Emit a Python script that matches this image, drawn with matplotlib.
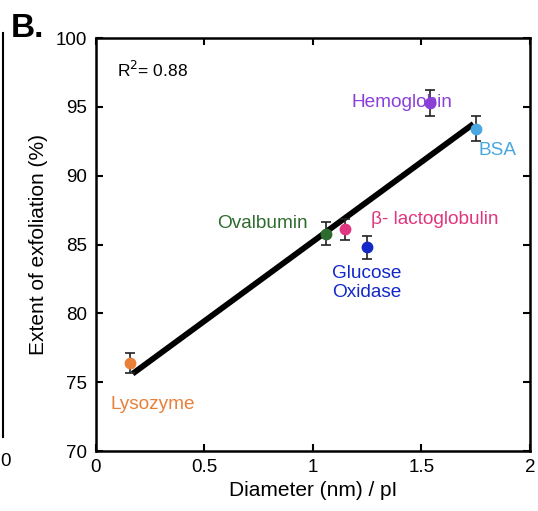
import numpy as np
import matplotlib
matplotlib.use("Agg")
import matplotlib.pyplot as plt

plt.rcParams['font.family'] = ['Liberation Sans', 'DejaVu Sans']

proteins = ["Lysozyme", "Ovalbumin", "β- lactoglobulin", "Glucose\nOxidase", "Hemoglobin", "BSA"]
diameter_pI = [0.16, 1.06, 1.15, 1.25, 1.54, 1.75]
exfoliation = [76.4, 85.8, 86.1, 84.8, 95.3, 93.4]
errors = [0.7, 0.8, 0.75, 0.85, 0.95, 0.9]
colors = ["#E8803A", "#2E6B2E", "#E0357F", "#1328C8", "#8B3FD9", "#4AA8E0"]
label_pos = [(0.07, 73.4), (0.56, 86.5), (1.27, 86.85), (1.09, 82.2), (1.41, 95.3), (1.765, 91.8)]
label_ha = ["left", "left", "left", "left", "center", "left"]
fit_range = [0.17, 1.74]
r2_text = "R$^2$= 0.88"

fig = plt.figure(figsize=(5.38, 5.11), dpi=100)
ax = fig.add_axes([0.178, 0.1174, 0.807, 0.8082])

x = np.array(diameter_pI)
y = np.array(exfoliation)
slope, intercept = np.polyfit(x, y, 1)
xf = np.array(fit_range)
ax.plot(xf, slope * xf + intercept, color="black", lw=4.2, solid_capstyle="butt", zorder=2)

for xi, yi, ei, c in zip(diameter_pI, exfoliation, errors, colors):
    ax.errorbar(xi, yi, yerr=ei, fmt="none", ecolor="#222222", elinewidth=1.2, capsize=3.5, capthick=1.2, zorder=3)
    ax.plot(xi, yi, "o", color=c, markersize=7.5, zorder=4)

for name, (lx, ly), ha, c in zip(proteins, label_pos, label_ha, colors):
    ax.text(lx, ly, name, color=c, fontsize=13.7, ha=ha, va="center", linespacing=1.15)

ax.text(0.097, 97.7, r2_text, fontsize=12.5, ha="left", va="center")

ax.set_xlim(0, 2)
ax.set_ylim(70, 100)
ax.set_xticks([0, 0.5, 1, 1.5, 2])
ax.set_xticklabels(["0", "0.5", "1", "1.5", "2"])
ax.set_yticks([70, 75, 80, 85, 90, 95, 100])
ax.tick_params(direction="in", top=True, right=True, length=5, width=1.5, labelsize=13.5, pad=6)
for s in ax.spines.values():
    s.set_linewidth(1.8)
ax.set_xlabel("Diameter (nm) / pI", fontsize=15, labelpad=3)
ax.set_ylabel("Extent of exfoliation (%)", fontsize=15, labelpad=6)

fig.text(0.02, 0.975, "B.", fontsize=24, fontweight="bold", ha="left", va="top")
fig.add_artist(plt.Line2D([0.005, 0.005], [1 - 437 / 511, 1 - 33 / 511], color="black", lw=1.5, transform=fig.transFigure))
fig.text(0.0, 1 - 462 / 511, "0", fontsize=13.5, ha="left", va="center")

fig.savefig("out.png", dpi=100)
